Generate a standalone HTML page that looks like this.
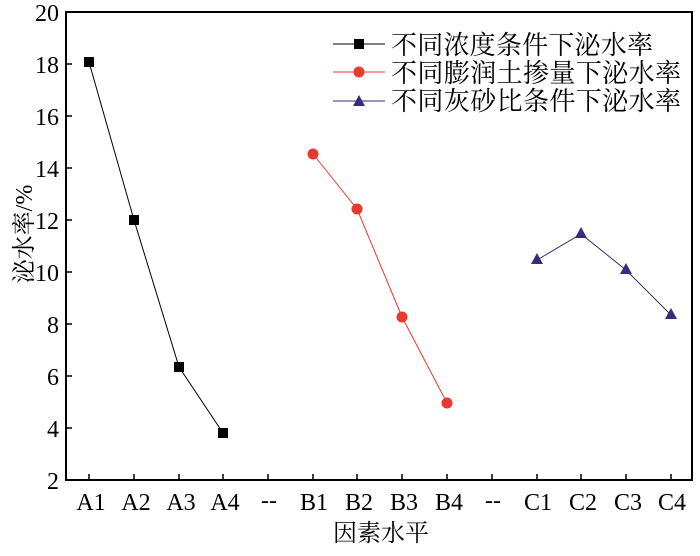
<!DOCTYPE html>
<html><head><meta charset="utf-8"><style>body{margin:0;background:#fff}</style></head><body>
<svg width="700" height="551" xmlns="http://www.w3.org/2000/svg" font-family="'Liberation Serif','Noto Serif CJK SC','Noto Sans CJK SC',serif">
<rect x="66" y="12" width="626" height="468" fill="none" stroke="#000" stroke-width="2"/>
<g stroke="#000" stroke-width="1.5">
<line x1="66" y1="428" x2="72" y2="428"/><line x1="66" y1="376" x2="72" y2="376"/><line x1="66" y1="324" x2="72" y2="324"/><line x1="66" y1="272" x2="72" y2="272"/><line x1="66" y1="220" x2="72" y2="220"/><line x1="66" y1="168" x2="72" y2="168"/><line x1="66" y1="116" x2="72" y2="116"/><line x1="66" y1="64" x2="72" y2="64"/>
<line x1="89" y1="480" x2="89" y2="474"/><line x1="134" y1="480" x2="134" y2="474"/><line x1="179" y1="480" x2="179" y2="474"/><line x1="223" y1="480" x2="223" y2="474"/><line x1="268" y1="480" x2="268" y2="474"/><line x1="313" y1="480" x2="313" y2="474"/><line x1="357" y1="480" x2="357" y2="474"/><line x1="402" y1="480" x2="402" y2="474"/><line x1="447" y1="480" x2="447" y2="474"/><line x1="492" y1="480" x2="492" y2="474"/><line x1="537" y1="480" x2="537" y2="474"/><line x1="581" y1="480" x2="581" y2="474"/><line x1="626" y1="480" x2="626" y2="474"/><line x1="671" y1="480" x2="671" y2="474"/>
</g>
<g font-size="24" text-anchor="end">
<text x="59" y="489">2</text><text x="59" y="437">4</text><text x="59" y="385">6</text><text x="59" y="333">8</text><text x="59" y="281">10</text><text x="59" y="229">12</text><text x="59" y="177">14</text><text x="59" y="125">16</text><text x="59" y="73">18</text><text x="59" y="21">20</text>
</g>
<g font-size="24" text-anchor="middle">
<text x="91" y="510">A1</text><text x="136" y="510">A2</text><text x="181" y="510">A3</text><text x="225" y="510">A4</text><text x="269" y="508">--</text><text x="314" y="510">B1</text><text x="359" y="510">B2</text><text x="404" y="510">B3</text><text x="449" y="510">B4</text><text x="493" y="508">--</text><text x="538" y="510">C1</text><text x="583" y="510">C2</text><text x="628" y="510">C3</text><text x="672" y="510">C4</text>
<text x="381" y="541">因素水平</text>
</g>
<text transform="translate(32,234) rotate(-90)" font-size="24" text-anchor="middle">泌水率/%</text>
<polyline points="89,62 134,220 179,367 223,433" fill="none" stroke="#000" stroke-width="1"/>
<g fill="#000"><rect x="84" y="57" width="10" height="10"/><rect x="129" y="215" width="10" height="10"/><rect x="174" y="362" width="10" height="10"/><rect x="218" y="428" width="10" height="10"/></g>
<polyline points="313,154 357,209 402,317 447,403" fill="none" stroke="#e8392f" stroke-width="1"/>
<g fill="#e8392f"><circle cx="313" cy="154" r="5.5"/><circle cx="357" cy="209" r="5.5"/><circle cx="402" cy="317" r="5.5"/><circle cx="447" cy="403" r="5.5"/></g>
<polyline points="537,260 581,234 626,270 671,315" fill="none" stroke="#3a2a7a" stroke-width="1"/>
<g fill="#3a2a7a"><polygon points="537,253 543,264 531,264"/><polygon points="581,227 587,238 575,238"/><polygon points="626,263 632,274 620,274"/><polygon points="671,308 677,319 665,319"/></g>
<line x1="333" y1="44" x2="385" y2="44" stroke="#000"/><rect x="354" y="39" width="10" height="10" fill="#000"/>
<line x1="333" y1="72" x2="385" y2="72" stroke="#e8392f"/><circle cx="359" cy="72" r="5.5" fill="#e8392f"/>
<line x1="333" y1="101" x2="385" y2="101" stroke="#3a2a7a"/><polygon points="359,95 365,106 353,106" fill="#3a2a7a"/>
<g font-size="26"><text x="391" y="54" textLength="262">不同浓度条件下泌水率</text><text x="391" y="82" textLength="290">不同膨润土掺量下泌水率</text><text x="391" y="110" textLength="290">不同灰砂比条件下泌水率</text></g>
</svg>
</body></html>
